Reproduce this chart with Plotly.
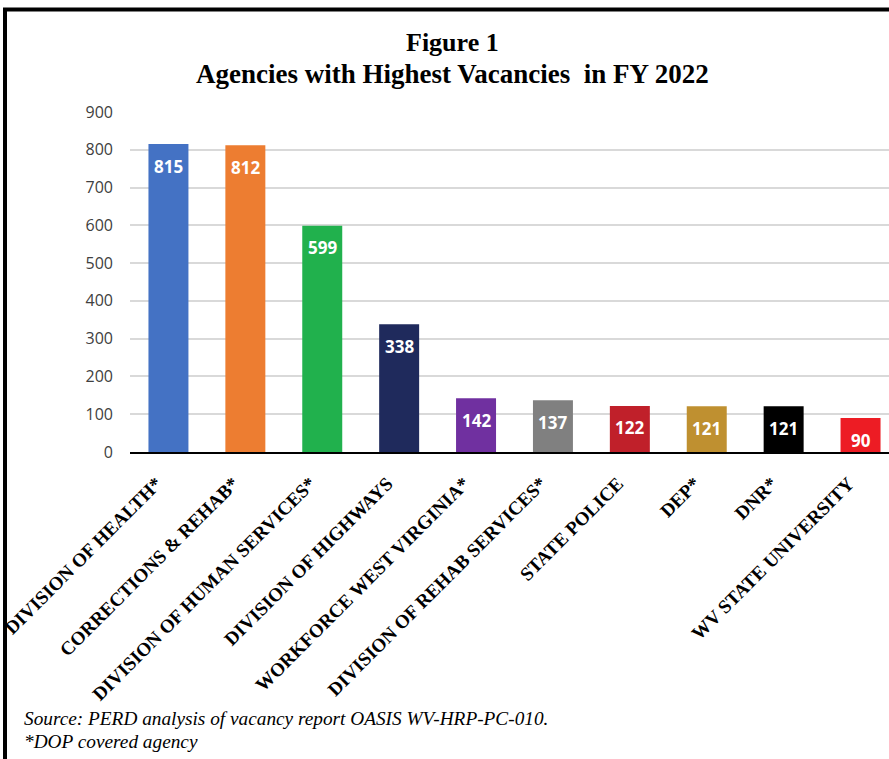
import plotly.graph_objects as go

categories = ["DIVISION OF HEALTH*", "CORRECTIONS & REHAB*", "DIVISION OF HUMAN SERVICES*",
              "DIVISION OF HIGHWAYS", "WORKFORCE WEST VIRGINIA*", "DIVISION OF REHAB SERVICES*",
              "STATE POLICE", "DEP*", "DNR*", "WV STATE UNIVERSITY"]
vacancies = [815, 812, 599, 338, 142, 137, 122, 121, 121, 90]
bar_colors = ["#4472C4", "#ED7D31", "#21B14D", "#1F2A5C", "#7030A0", "#808080",
              "#C0202A", "#BF9030", "#000000", "#ED1C24"]
y_ticks = [0, 100, 200, 300, 400, 500, 600, 700, 800, 900]

W, H = 889, 759
L, R, T, B = 130, 0, 112, 307
pw, ph = W - L - R, H - T - B

def px_x(px):
    return (px - L) / pw

def px_y(py):
    return (H - B - py) / ph

fig = go.Figure()
fig.add_trace(go.Bar(
    x=categories, y=vacancies, marker=dict(color=bar_colors, line=dict(width=0)),
    width=0.52, showlegend=False, hoverinfo="x+y"))

for c, v in zip(categories, vacancies):
    fig.add_annotation(x=c, y=v, xref="x", yref="y", text=f"<b>{v}</b>",
                       showarrow=False, yshift=-22, yanchor="middle",
                       font=dict(family="Open Sans", size=17, color="white"))

fig.add_annotation(x=px_x(452), y=px_y(42), xref="paper", yref="paper", text="<b>Figure 1</b>",
                   showarrow=False, xanchor="center", yanchor="middle",
                   font=dict(family="Liberation Serif", size=26, color="black"))
fig.add_annotation(x=px_x(452), y=px_y(74), xref="paper", yref="paper",
                   text="<b>Agencies with Highest Vacancies  in FY 2022</b>",
                   showarrow=False, xanchor="center", yanchor="middle",
                   font=dict(family="Liberation Serif", size=27, color="black"))
fig.add_annotation(x=px_x(22), y=px_y(718), xref="paper", yref="paper",
                   text="<i>Source: PERD analysis of vacancy report OASIS WV-HRP-PC-010.</i>",
                   showarrow=False, xanchor="left", yanchor="middle",
                   font=dict(family="Liberation Serif", size=19.3, color="black"))
fig.add_annotation(x=px_x(22), y=px_y(741), xref="paper", yref="paper",
                   text="<i>*DOP covered agency</i>",
                   showarrow=False, xanchor="left", yanchor="middle",
                   font=dict(family="Liberation Serif", size=19.3, color="black"))

# frame lines (left and top)
fig.add_shape(type="line", xref="paper", yref="paper", x0=px_x(5), x1=px_x(5),
              y0=px_y(9), y1=px_y(770), line=dict(color="black", width=4))
fig.add_shape(type="line", xref="paper", yref="paper", x0=px_x(3), x1=px_x(900),
              y0=px_y(9.5), y1=px_y(9.5), line=dict(color="black", width=4))

fig.update_layout(
    width=W, height=H, margin=dict(l=L, r=R, t=T, b=B, autoexpand=False),
    paper_bgcolor="white", plot_bgcolor="white", bargap=0.48,
    xaxis=dict(range=[-0.5, 9.37], tickangle=-45, showline=True, linecolor="black",
               linewidth=2, ticks="", showgrid=False,
               tickfont=dict(family="Liberation Serif", size=19, color="black"),
               tickprefix="<b>", ticksuffix="</b>", ticklabelshift=-12, ticklabelstandoff=11),
    yaxis=dict(range=[0, 900], tickvals=y_ticks, showgrid=True, gridcolor="#D9D9D9",
               gridwidth=1.5, zeroline=False, showline=False, ticks="",
               tickfont=dict(family="Open Sans", size=16, color="#404040"), ticklabelstandoff=16),
)
fig.write_html("out.html")
